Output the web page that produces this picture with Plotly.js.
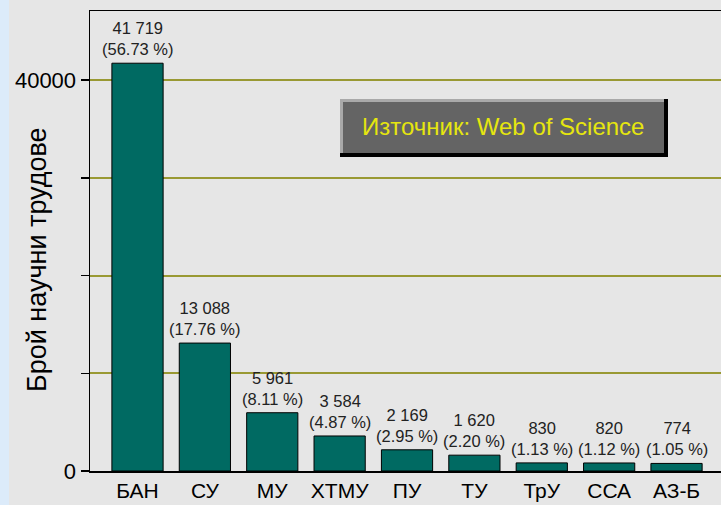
<!DOCTYPE html>
<html><head><meta charset="utf-8">
<script src="https://cdn.plot.ly/plotly-3.0.1.min.js"></script>
<style>html,body{margin:0;padding:0;background:#e6e6e6;}#chart{width:721px;height:505px;}</style>
</head><body><div id="chart"></div>
<script>
const categories = ["БАН","СУ","МУ","ХТМУ","ПУ","ТУ","ТрУ","ССА","АЗ-Б"];
const counts = [41719, 13088, 5961, 3584, 2169, 1620, 830, 820, 774];
const percents = ["56.73","17.76","8.11","4.87","2.95","2.20","1.13","1.12","1.05"];
const yTickVals = [0, 10000, 20000, 30000, 40000];
const yTickText = ["0", "", "", "", "40000"];
const yTitle = "Брой научни трудове";
const sourceNote = "Източник: Web of Science";

const FONT = "Arial, 'Liberation Sans', sans-serif";
const L = 90, T = 11, W = 631, H = 460;
const px = x => (x - L) / W;
const py = y => (T + H - y) / H;
const fmt = n => String(n).replace(/\B(?=(\d{3})+(?!\d))/g, " ");

const annotations = categories.map((c, i) => ({
  x: c, y: counts[i], xref: "x", yref: "y",
  text: fmt(counts[i]) + "<br>(" + percents[i] + " %)",
  showarrow: false, yanchor: "bottom", yshift: 3,
  font: {family: FONT, size: 16.5, color: "#222"}
}));
annotations.push({
  x: px(503), y: py(126), xref: "paper", yref: "paper",
  xanchor: "center", yanchor: "middle",
  text: sourceNote, showarrow: false,
  font: {family: FONT, size: 24, color: "#e6e60f"}
});
annotations.push({
  x: px(37), y: py(260), xref: "paper", yref: "paper",
  xanchor: "center", yanchor: "middle", textangle: -90,
  text: yTitle, showarrow: false,
  font: {family: FONT, size: 27, color: "#000"}
});

const shapes = [
  {type: "rect", xref: "paper", yref: "paper", x0: px(0), x1: px(9), y0: py(0), y1: py(505), fillcolor: "#dcebfa", line: {width: 0}, layer: "below"},
  {type: "rect", xref: "paper", yref: "paper", x0: px(340), x1: px(668), y0: py(99), y1: py(157), fillcolor: "#000000", line: {width: 0}},
  {type: "rect", xref: "paper", yref: "paper", x0: px(340), x1: px(664), y0: py(99), y1: py(153), fillcolor: "#a9a9a9", line: {width: 0}},
  {type: "rect", xref: "paper", yref: "paper", x0: px(343), x1: px(664), y0: py(102), y1: py(153), fillcolor: "#646464", line: {width: 0}}
];

Plotly.newPlot("chart", [{
  type: "bar", x: categories, y: counts,
  marker: {color: "#006a62", line: {color: "#000", width: 1}},
  hoverinfo: "none"
}], {
  width: 721, height: 505,
  margin: {l: L, r: 0, t: T, b: 505 - T - H, pad: 0},
  paper_bgcolor: "#e6e6e6", plot_bgcolor: "#e6e6e6",
  bargap: 0.24,
  showlegend: false,
  xaxis: {
    type: "category", range: [-0.705, 8.66],
    showline: true, mirror: true, linecolor: "#000", linewidth: 1.5,
    ticks: "", showgrid: false, zeroline: false,
    tickfont: {family: FONT, size: 21, color: "#000"}
  },
  yaxis: {
    range: [0, 47060],
    tickvals: yTickVals, ticktext: yTickText,
    ticks: "outside", ticklen: 8, tickwidth: 1.5, tickcolor: "#000",
    showline: true, linecolor: "#000", linewidth: 1.5,
    showgrid: true, gridcolor: "#999933", gridwidth: 2,
    zeroline: false,
    tickfont: {family: FONT, size: 22, color: "#000"}
  },
  annotations: annotations,
  shapes: shapes
}, {staticPlot: true});
</script></body></html>
